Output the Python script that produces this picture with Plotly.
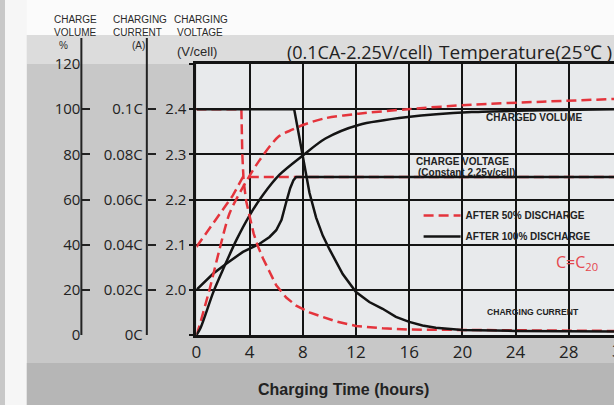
import plotly.graph_objects as go

# ---------------- data ----------------
hours_ticks = [0, 4, 8, 12, 16, 20, 24, 28]

volt_ticks = [1.9, 2.0, 2.1, 2.2, 2.3, 2.4, 2.5]
volt_ticktext = [" ", "2.0", "2.1", "2.2", "2.3", "2.4", " "]

vol_ticks = [0, 20, 40, 60, 80, 100, 120]
vol_ticktext = ["0", "20", "40", "60", "80", "100", "120"]

cur_ticks = [0, 0.02, 0.04, 0.06, 0.08, 0.10, 0.12]
cur_ticktext = ["0C", "0.02C", "0.04C", "0.06C", "0.08C", "0.1C", " "]

# charged volume (%)
t_vol_100 = [0, 0.3, 1.27, 2.0, 3.0, 4.0, 5.0, 6.25, 8.0, 9.7, 12.2, 15.9, 20.7, 26, 31.4]
vol_100 = [0, 3, 19, 29, 42, 53, 62, 71, 79.5, 87, 93, 96.5, 98.7, 99.5, 100]
t_vol_50 = [0, 0.12, 1.0, 1.74, 2.5, 3.5, 4.7, 6.2, 7.25, 8.0, 9.7, 12.2, 15.9, 20.7, 26, 31.4]
vol_50 = [0, 2, 20.5, 38, 54, 65.5, 77, 88, 91, 93, 96, 98, 100, 102, 103.3, 104.5]

# charging voltage (V/cell)
t_volt_100 = [0, 1.27, 2.24, 3.5, 4.75, 5.5, 6.0, 6.4, 6.75, 7.05, 7.3, 7.5, 31.4]
volt_100 = [2.0, 2.036, 2.058, 2.084, 2.102, 2.117, 2.132, 2.155, 2.194, 2.225, 2.243, 2.25, 2.25]
t_volt_50 = [0, 1.5, 2.74, 3.5, 31.4]
volt_50 = [2.095, 2.157, 2.209, 2.25, 2.25]

# charging current (C)
t_cur_100 = [0, 7.35, 7.6, 8.0, 8.5, 9.0, 9.5, 10.0, 11, 12, 13, 14, 15, 16, 17, 18, 20, 24, 31.4]
cur_100 = [0.1, 0.1, 0.092, 0.079, 0.063, 0.052, 0.044, 0.038, 0.027, 0.019, 0.0146, 0.0116,
           0.008, 0.0058, 0.0042, 0.0032, 0.0022, 0.0018, 0.0016]
t_cur_50 = [0, 3.38, 3.45, 3.55, 3.75, 4.0, 4.3, 4.6, 5.0, 5.5, 6.0, 6.75, 7.5, 8.5, 9.5, 10.5,
            12, 14, 16, 20, 31.4]
cur_50 = [0.1, 0.1, 0.08, 0.068, 0.059, 0.052, 0.045, 0.0396, 0.034, 0.028, 0.022, 0.0166, 0.013,
          0.01, 0.008, 0.006, 0.004, 0.003, 0.0024, 0.0022, 0.0018]

# ---------------- layout helpers ----------------
W, H = 614, 405
MT, MB = 64, 70
PH = H - MT - MB


def px(x):
    return x / W


def py(y):
    return (H - MB - y) / PH


RED = "#e4343c"
BLK = "#141414"
DASH = "10px,5px"
NARROW = "Liberation Sans Narrow, Liberation Sans, Arial"

fig = go.Figure()

# voltage (main y)
fig.add_trace(go.Scatter(x=t_volt_50, y=volt_50, mode="lines", yaxis="y",
                         line=dict(color=RED, width=2.5, dash=DASH), showlegend=False))
fig.add_trace(go.Scatter(x=t_volt_100, y=volt_100, mode="lines", yaxis="y",
                         line=dict(color=BLK, width=2.5), showlegend=False))
# volume (y2)
fig.add_trace(go.Scatter(x=t_vol_50, y=vol_50, mode="lines", yaxis="y2", name="AFTER 50% DISCHARGE",
                         line=dict(color=RED, width=2.5, dash=DASH, shape="spline", smoothing=0.8),
                         showlegend=True, legendgroup="a"))
fig.add_trace(go.Scatter(x=t_vol_100, y=vol_100, mode="lines", yaxis="y2", name="AFTER 100% DISCHARGE",
                         line=dict(color=BLK, width=2.5, shape="spline", smoothing=0.8),
                         showlegend=True, legendgroup="b"))
# current (y3)
fig.add_trace(go.Scatter(x=t_cur_50, y=cur_50, mode="lines", yaxis="y3",
                         line=dict(color=RED, width=2.5, dash=DASH), showlegend=False))
fig.add_trace(go.Scatter(x=t_cur_100, y=cur_100, mode="lines", yaxis="y3",
                         line=dict(color=BLK, width=2.5), showlegend=False))

tickfont = dict(family="Open Sans", size=15, color="#222")

fig.update_layout(
    width=W, height=H,
    margin=dict(l=0, r=0, t=MT, b=MB),
    paper_bgcolor="#c8c8c8",
    plot_bgcolor="#e8eaec",
    xaxis=dict(domain=[px(193), 1], range=[0, 31.4], tickmode="array", tickvals=hours_ticks,
               showgrid=True, gridcolor=BLK, gridwidth=2, showline=True, linecolor=BLK,
               linewidth=3, mirror=True, ticks="", zeroline=False, ticklabelstandoff=0,
               tickfont=dict(family="Open Sans", size=17, color="#222")),
    yaxis=dict(range=[1.9, 2.5], tickmode="array", tickvals=volt_ticks, ticktext=volt_ticktext,
               showgrid=True, gridcolor=BLK, gridwidth=2, showline=True, linecolor=BLK, linewidth=3,
               ticks="outside", ticklen=4, tickwidth=2, tickcolor=BLK, zeroline=False,
               tickfont=tickfont),
    yaxis2=dict(overlaying="y", anchor="free", position=px(77), side="left", range=[0, 120],
                tickmode="array", tickvals=vol_ticks, ticktext=vol_ticktext, ticks="inside",
                ticklen=8, tickwidth=2, tickcolor="#222", showgrid=False, showline=False,
                zeroline=False, tickfont=tickfont, ticklabelstandoff=1),
    yaxis3=dict(overlaying="y", anchor="free", position=px(143), side="left", range=[0, 0.12],
                tickmode="array", tickvals=cur_ticks, ticktext=cur_ticktext, ticks="inside",
                ticklen=8, tickwidth=2, tickcolor="#222", showgrid=False, showline=False,
                zeroline=False, tickfont=tickfont, ticklabelstandoff=4),
    legend=dict(x=px(417), y=py(201), xanchor="left", yanchor="top", bgcolor="rgba(0,0,0,0)",
                font=dict(family=NARROW, size=10, color="#222", weight="bold"),
                tracegroupgap=2, itemwidth=37),
)

shapes = [
    dict(type="rect", xref="paper", yref="paper", x0=0, x1=1, y0=py(35), y1=py(0),
         fillcolor="#fbfbfb", line=dict(width=0), layer="below"),
    dict(type="rect", xref="paper", yref="paper", x0=px(22), x1=1, y0=py(64), y1=py(35),
         fillcolor="#dcdcdc", line=dict(width=0), layer="below"),
    dict(type="rect", xref="paper", yref="paper", x0=0, x1=px(22), y0=py(405), y1=py(0),
         fillcolor="#f6f6f6", line=dict(width=0), layer="below"),
    dict(type="rect", xref="paper", yref="paper", x0=px(22), x1=1, y0=py(405), y1=py(363),
         fillcolor="#b6b6b6", line=dict(width=0), layer="below"),
    dict(type="line", xref="paper", yref="paper", x0=px(77), x1=px(77), y0=0, y1=py(38),
         line=dict(color="#222", width=2)),
    dict(type="line", xref="paper", yref="paper", x0=px(143), x1=px(143), y0=0, y1=py(38),
         line=dict(color="#222", width=2)),
]
fig.update_layout(shapes=shapes)

hdr = dict(family=NARROW, size=10, color="#2a2a2a")
bold = dict(family=NARROW, size=10, color="#222", weight="bold")
bold_small = dict(family=NARROW, size=8.6, color="#222", weight="bold")
ann = []


def add_text(text, x, y, font, xanchor="center", yanchor="middle"):
    ann.append(dict(text=text, x=px(x), y=py(y), xref="paper", yref="paper",
                    showarrow=False, font=font, xanchor=xanchor, yanchor=yanchor))


add_text("CHARGE", 71, 19, hdr)
add_text("VOLUME", 71, 32, hdr)
add_text("%", 59, 45, hdr)
add_text("CHARGING", 136, 19, hdr)
add_text("CURRENT", 134, 32, hdr)
add_text("(A)", 135, 45, hdr)
add_text("CHARGING", 198, 19, hdr)
add_text("VOLTAGE", 197, 32, hdr)
add_text("(V/cell)", 194, 51, dict(family="Liberation Sans, Arial", size=13, color="#2a2a2a"))

add_text("(0.1CA-2.25V/cell)", 282, 52, dict(family="Open Sans", size=18, color="#222"), xanchor="left")
add_text("Temperature(25℃ )", 436, 52, dict(family="Open Sans", size=19, color="#222"), xanchor="left")
add_text("<b>Charging Time (hours)</b>", 341, 389, dict(family="Liberation Sans, Arial", size=16, color="#222"))

add_text("CHARGED VOLUME", 533, 117, bold)
add_text("CHARGE VOLTAGE", 461, 161, bold)
add_text("(Constant 2.25v/cell)", 465, 172, bold)
add_text("C=C<sub>20</sub>", 577, 262, dict(family="Open Sans", size=16, color="#e5474f"))
add_text("CHARGING CURRENT", 532, 312, bold_small)
add_text("32", 622, 350, dict(family="Open Sans", size=17, color="#222"))

fig.update_layout(annotations=ann)

fig.write_html("out.html")
